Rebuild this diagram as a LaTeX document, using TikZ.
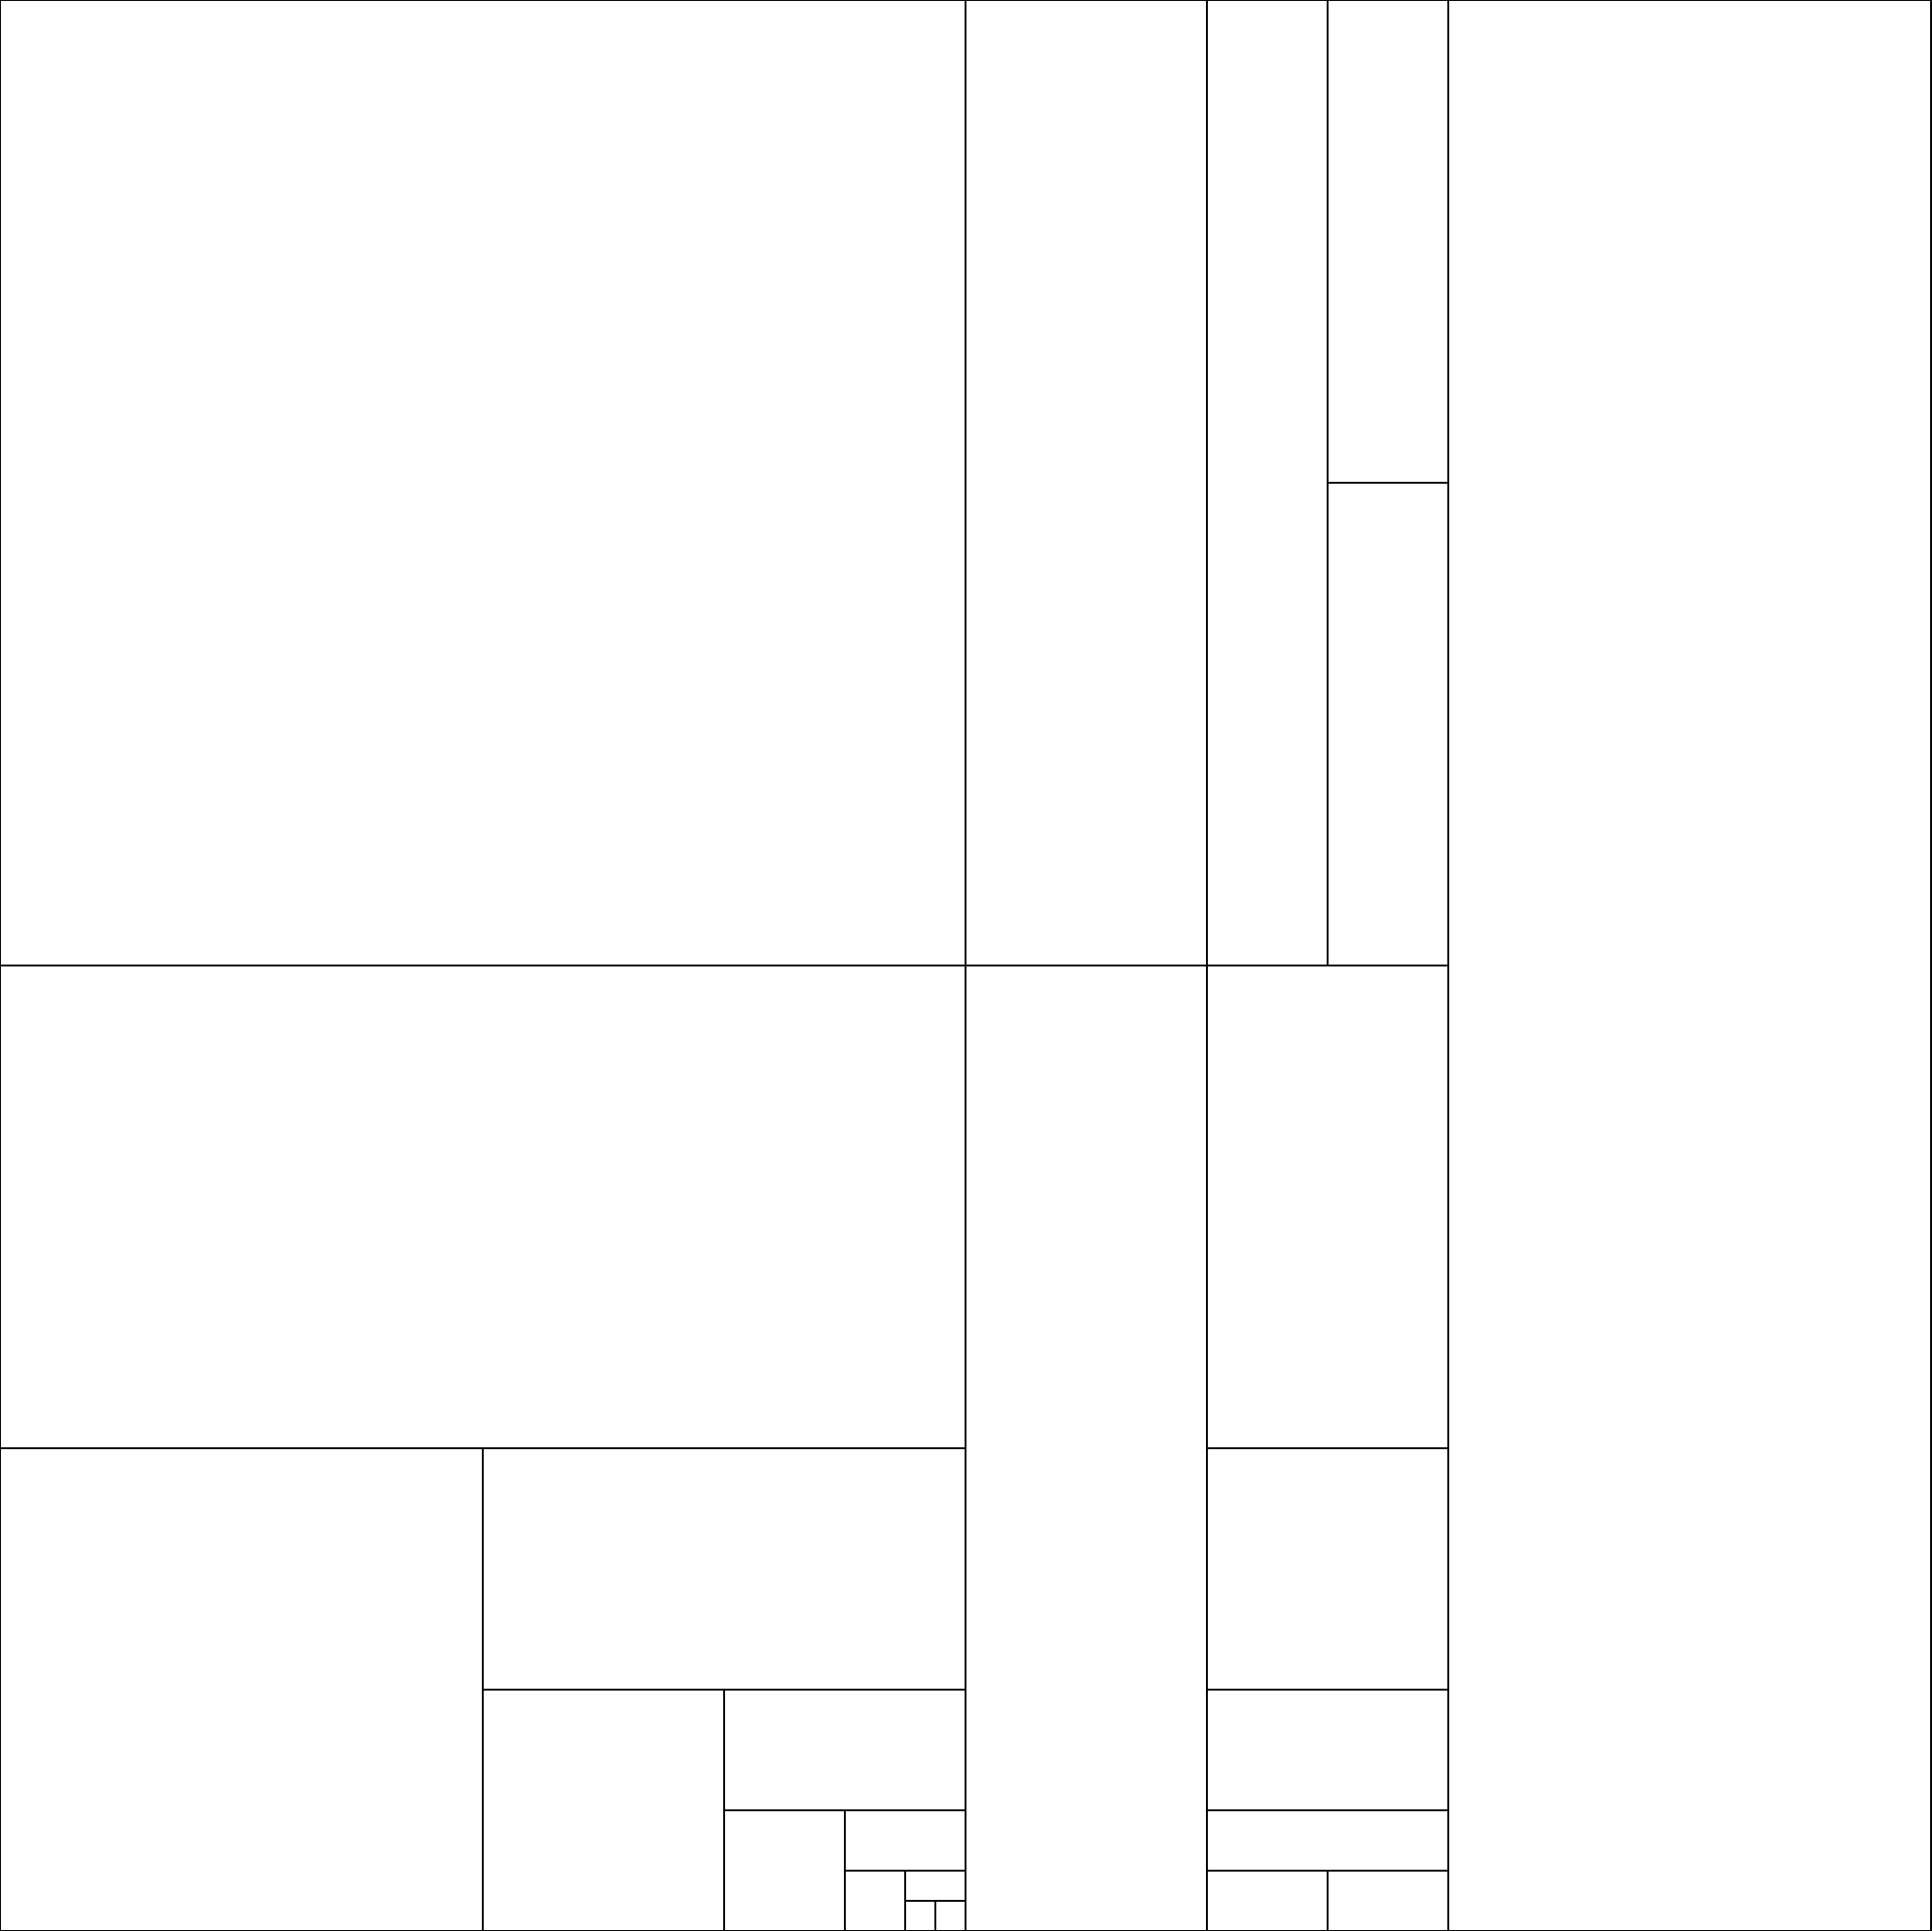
\documentclass[tikz,border=0pt]{standalone}
\begin{document}
\begin{tikzpicture}[x=1cm,y=-1cm,ln/.style={draw=black,line width=0.45pt}]
\useasboundingbox (0,0) rectangle (16,16);
\fill[white] (0,0) rectangle (16,16);
\draw[ln] (0,0) rectangle (16,16);
% verticals
\draw[ln] (8,0) -- (8,16);
\draw[ln] (10,0) -- (10,16);
\draw[ln] (11,0) -- (11,8);
\draw[ln] (12,0) -- (12,16);
\draw[ln] (4,12) -- (4,16);
\draw[ln] (6,14) -- (6,16);
\draw[ln] (7,15) -- (7,16);
\draw[ln] (7.5,15.5) -- (7.5,16);
\draw[ln] (7.75,15.75) -- (7.75,16);
\draw[ln] (11,15.5) -- (11,16);
% horizontals
\draw[ln] (11,4) -- (12,4);
\draw[ln] (0,8) -- (12,8);
\draw[ln] (0,12) -- (8,12);
\draw[ln] (10,12) -- (12,12);
\draw[ln] (4,14) -- (8,14);
\draw[ln] (10,14) -- (12,14);
\draw[ln] (6,15) -- (8,15);
\draw[ln] (10,15) -- (12,15);
\draw[ln] (7,15.5) -- (8,15.5);
\draw[ln] (10,15.5) -- (12,15.5);
\draw[ln] (7.5,15.75) -- (8,15.75);
\end{tikzpicture}
\end{document}
